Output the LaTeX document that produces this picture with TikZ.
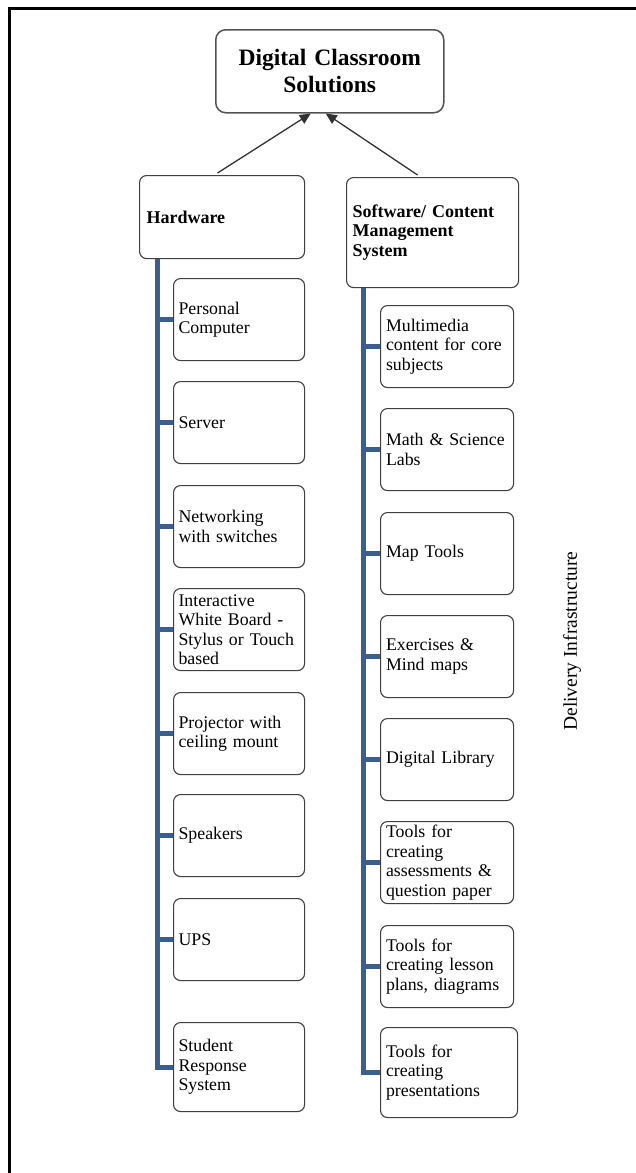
\documentclass[tikz,border=0pt]{standalone}
\usepackage{fontspec}
\setmainfont{Liberation Serif}
\usetikzlibrary{arrows.meta}
\definecolor{boxgray}{RGB}{64,64,64}
\definecolor{trunkblue}{RGB}{58,95,142}
\definecolor{arrgray}{RGB}{50,50,50}
\tikzset{
  box/.style={draw=boxgray, line width=1.1pt, rounded corners=7pt, fill=white, inner ysep=0pt},
  leafh/.style={box, anchor=north west, minimum height=82pt, inner xsep=5pt, text width=121pt, align=left, font=\fontsize{17.8}{19.5}\selectfont},
  leafs/.style={box, anchor=north west, minimum height=82pt, inner xsep=5.5pt, text width=122pt, align=left, font=\fontsize{17.8}{19.5}\selectfont},
  trunk/.style={draw=trunkblue, line width=5pt},
  arr/.style={draw=arrgray, line width=1.3pt, -{Triangle[length=11pt,width=10pt]}},
}
\begin{document}
\begin{tikzpicture}[x=1pt,y=-1pt]
\useasboundingbox (0,0) rectangle (636,1173);
\draw[line width=3pt] (9,1173) -- (9,8.5) -- (636,8.5);

\node[box, line width=1.5pt, draw=boxgray!90, anchor=north west, minimum height=83pt, inner xsep=5pt, text width=218pt, align=center, font=\bfseries\fontsize{23.5}{27}\selectfont, rounded corners=10pt] (title) at (215,29) {Digital Classroom\\Solutions};

\node[box, anchor=north west, minimum height=83pt, inner xsep=7pt, text width=151pt, align=left, font=\bfseries\fontsize{18}{19.5}\selectfont] (hw) at (139,175) {Hardware};
\node[box, anchor=north west, minimum height=110pt, inner xsep=6pt, text width=160pt, align=left, font=\bfseries\fontsize{18}{19.5}\selectfont] (sw) at (346,177) {Software/ Content\\Management\\System};

\draw[arr] ([xshift=-4.5pt,yshift=2pt]hw.north) -- ([xshift=-19pt]title.south);
\draw[arr] ([xshift=-15pt,yshift=2pt]sw.north) -- ([xshift=-4pt]title.south);

% hardware leaves
\node[leafh] (h1) at (173,278) {Personal\\Computer};
\node[leafh] (h2) at (173,381) {Server};
\node[leafh] (h3) at (173,485) {Networking\\with switches};
\node[leafh] (h4) at (173,588) {Interactive\\White Board -\\Stylus or Touch\\based};
\node[leafh] (h5) at (173,692) {Projector with\\ceiling mount};
\node[leafh] (h6) at (173,794) {Speakers};
\node[leafh] (h7) at (173,898) {UPS};
\node[leafh, minimum height=89pt] (h8) at (173,1022) {Student\\Response\\System};

% software leaves
\node[leafs] (s1) at (380,305) {Multimedia\\content for core\\subjects};
\node[leafs] (s2) at (380,408) {Math \& Science\\Labs};
\node[leafs] (s3) at (380,512) {Map Tools};
\node[leafs] (s4) at (380,615) {Exercises \&\\Mind maps};
\node[leafs] (s5) at (380,718) {Digital Library};
\node[leafs] (s6) at (380,821) {Tools for\\creating\\assessments \&\\question paper};
\node[leafs] (s7) at (380,925) {Tools for\\creating lesson\\plans, diagrams};
\node[leafs, minimum height=90pt, text width=126pt] (s8) at (380,1027) {Tools for\\creating\\presentations};

% trunks
\coordinate (ht) at ([xshift=18pt]hw.south west);
\coordinate (st) at ([xshift=17pt]sw.south west);
\draw[trunk] (ht) |- (h8.west);
\draw[trunk] (st) |- (s8.west);
\foreach \i in {1,...,7} {
  \draw[trunk] (h\i.west) -- (h\i.west -| ht);
  \draw[trunk] (s\i.west) -- (s\i.west -| st);
}

\node[rotate=90, font=\fontsize{19.5}{24}\selectfont] (deliv) at (572,641) {Delivery Infrastructure};
\end{tikzpicture}
\end{document}
